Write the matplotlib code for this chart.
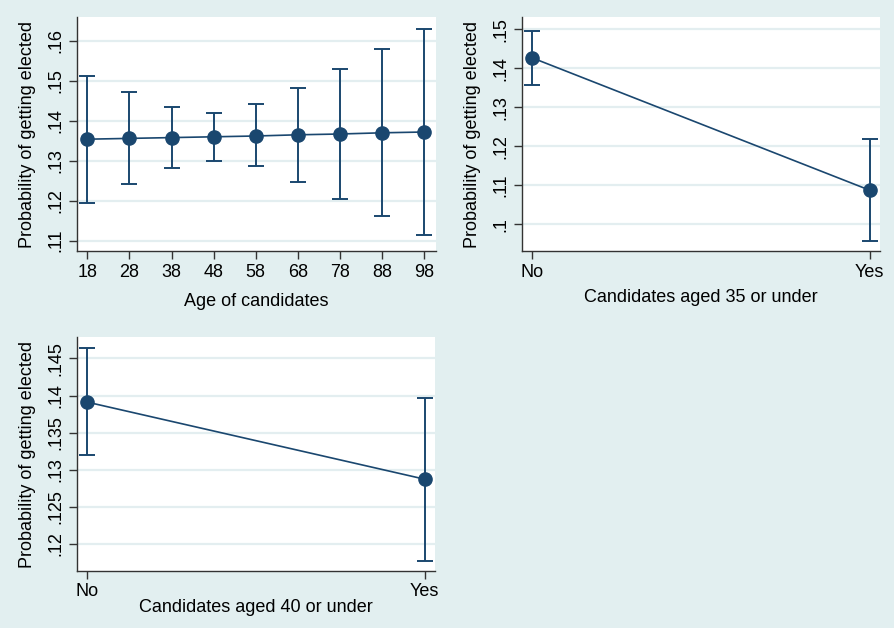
import matplotlib
matplotlib.use("Agg")
import matplotlib.pyplot as plt
from matplotlib.ticker import FuncFormatter

plt.rcParams['font.family'] = ['Liberation Sans', 'DejaVu Sans']

# Panel 1: age of candidates
ages = [18, 28, 38, 48, 58, 68, 78, 88, 98]
age_est = [.1354, .1356, .1358, .1360, .1362, .1365, .1367, .1370, .1372]
age_hi = [.1512, .1471, .1434, .1419, .1441, .1482, .1531, .1581, .1631]
age_lo = [.1195, .1241, .1282, .1300, .1286, .1248, .1205, .1161, .1114]
age_yticks = [.11, .12, .13, .14, .15, .16]

# Panel 2: aged 35 or under
cat_labels = ["No", "Yes"]
u35_est = [.1427, .1088]
u35_hi = [.1496, .1220]
u35_lo = [.1358, .0958]
u35_yticks = [.10, .11, .12, .13, .14, .15]

# Panel 3: aged 40 or under
u40_est = [.1391, .1287]
u40_hi = [.1464, .1397]
u40_lo = [.1320, .1177]
u40_yticks = [.12, .125, .13, .135, .14, .145]

BG = '#e2eff0'
NAVY = '#1a476f'
GRID = '#e3eef0'
W, H = 894, 628

fig = plt.figure(figsize=(W / 100, H / 100), dpi=100)
fig.patch.set_facecolor(BG)


def fmt(v, pos):
    s = ('%.3f' % v).rstrip('0').rstrip('.')
    if s.startswith('0'):
        s = s[1:]
    return s


def make_ax(l, r, t, b):
    return fig.add_axes([l / W, 1 - b / H, (r - l) / W, (b - t) / H])


def draw(ax, x, est, lo, hi, yticks, ylim, xlim, xticks, xticklabels, xlabel, xpad):
    ax.set_facecolor('white')
    for s in ['top', 'right']:
        ax.spines[s].set_visible(False)
    for s in ['left', 'bottom']:
        ax.spines[s].set_color('#333333')
        ax.spines[s].set_linewidth(1.0)
    yerr = [[e - l for e, l in zip(est, lo)], [h - e for e, h in zip(est, hi)]]
    ax.errorbar(x, est, yerr=yerr, fmt='none', ecolor=NAVY, elinewidth=1.4,
                capsize=5.5, capthick=1.4, zorder=3)
    ax.plot(x, est, '-', color=NAVY, lw=1.2, marker='o', markersize=9.5,
            markerfacecolor=NAVY, markeredgecolor=NAVY, zorder=4)
    ax.set_ylim(*ylim)
    ax.set_xlim(*xlim)
    ax.set_yticks(yticks)
    ax.yaxis.set_major_formatter(FuncFormatter(fmt))
    ax.set_xticks(xticks)
    ax.set_xticklabels(xticklabels)
    ax.grid(axis='y', color=GRID, lw=1.6)
    ax.set_axisbelow(True)
    ax.tick_params(axis='both', length=6, width=1.0, color='#333333',
                   labelsize=13, labelcolor='black', pad=3)
    for lab in ax.get_yticklabels():
        lab.set_rotation(90)
        lab.set_va('center')
    ax.set_ylabel('Probability of getting elected', fontsize=13, labelpad=8)
    ax.set_xlabel(xlabel, fontsize=13, labelpad=xpad)


ax1 = make_ax(77, 436, 17, 251)
draw(ax1, ages, age_est, age_lo, age_hi, age_yticks, (.1074, .166),
     (15.55, 100.8), ages, [str(a) for a in ages], 'Age of candidates', 9)

ax2 = make_ax(522, 880, 17, 251)
draw(ax2, [0, 1], u35_est, u35_lo, u35_hi, u35_yticks, (.0932, .1532),
     (-0.031, 1.031), [0, 1], cat_labels, 'Candidates aged 35 or under', 6)

ax3 = make_ax(77, 435, 337, 571)
draw(ax3, [0, 1], u40_est, u40_lo, u40_hi, u40_yticks, (.1163, .1479),
     (-0.031, 1.031), [0, 1], cat_labels, 'Candidates aged 40 or under', -1)

fig.savefig('out.png', dpi=100, facecolor=BG)
